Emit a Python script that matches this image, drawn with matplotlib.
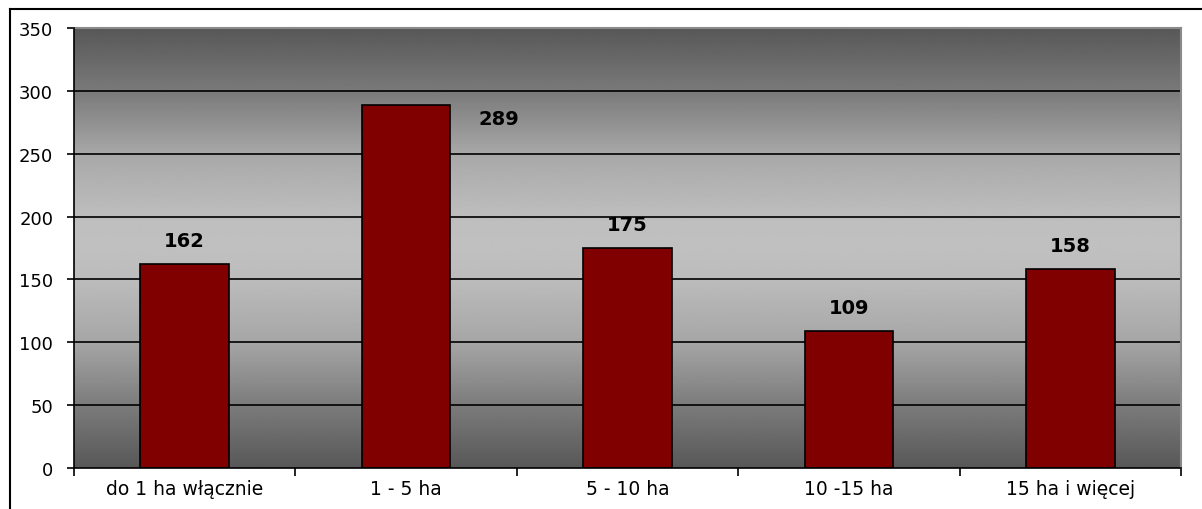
import numpy as np
import matplotlib
matplotlib.use("Agg")
import matplotlib.pyplot as plt
from matplotlib.lines import Line2D

categories = ["do 1 ha włącznie", "1 - 5 ha", "5 - 10 ha", "10 -15 ha", "15 ha i więcej"]
values = [162, 289, 175, 109, 158]
yticks = [0, 50, 100, 150, 200, 250, 300, 350]

plt.rcParams['font.family'] = ['DejaVu Sans']

W, H = 1202, 510
fig = plt.figure(figsize=(W / 100, H / 100), dpi=100)
ax = fig.add_axes([74 / W, 1 - 469 / H, (1181 - 74) / W, (469 - 29) / H])

# gradient background
gv = [0, 50, 100, 150, 175, 200, 250, 300, 350]
gc = [0x58, 0x7c, 0xa6, 0xbc, 0xc0, 0xbe, 0xa8, 0x7a, 0x58]
yy = np.linspace(0, 350, 400)
g = np.interp(yy, gv, gc) / 255.0
img = np.repeat(g[:, None], 2, axis=1)
ax.imshow(img, extent=[-0.5, 4.5, 0, 350], origin='lower', cmap='gray',
          vmin=0, vmax=1, aspect='auto', zorder=0, interpolation='bilinear')

x = np.arange(len(categories))
ax.bar(x, values, width=0.4, color='#800000', edgecolor='black', linewidth=1.2, zorder=3)

ax.set_xlim(-0.5, 4.5)
ax.set_ylim(0, 350)
ax.set_yticks(yticks)
ax.set_yticklabels([str(v) for v in yticks], fontsize=13)
for v in yticks[1:-1]:
    ax.axhline(v, color='black', linewidth=1.2, zorder=2)

ax.set_xticks(np.arange(-0.5, 5, 1.0), minor=False)
ax.set_xticklabels([])
ax.set_xticks(x, minor=True)
ax.set_xticklabels(categories, minor=True, fontsize=13.5)
ax.tick_params(axis='x', which='minor', length=0, pad=8)
ax.tick_params(axis='x', which='major', length=6, direction='out', width=1.2)
ax.tick_params(axis='y', length=5, direction='out', width=1.2, pad=10)

for s in ['left', 'bottom']:
    ax.spines[s].set_color('black')
    ax.spines[s].set_linewidth(1.2)
    ax.spines[s].set_zorder(5)
for s in ['top', 'right']:
    ax.spines[s].set_color('#8a8a8a')
    ax.spines[s].set_linewidth(1.5)

for i, v in enumerate(values):
    if i == 1:
        ax.annotate(str(v), xy=(i + 0.42, v), xytext=(0, -10), textcoords='offset points',
                    ha='center', va='center', fontsize=14, fontweight='bold', zorder=6)
    else:
        ax.annotate(str(v), xy=(i, v), xytext=(0, 17), textcoords='offset points',
                    ha='center', va='center', fontsize=14, fontweight='bold', zorder=6)

# figure border (left and top only)
fig.lines.append(Line2D([10 / W, 10 / W], [0, 1 - 10 / H], transform=fig.transFigure,
                        color='black', linewidth=1.5))
fig.lines.append(Line2D([10 / W, 1], [1 - 10 / H, 1 - 10 / H], transform=fig.transFigure,
                        color='black', linewidth=1.5))

fig.savefig("out.png", dpi=100)
